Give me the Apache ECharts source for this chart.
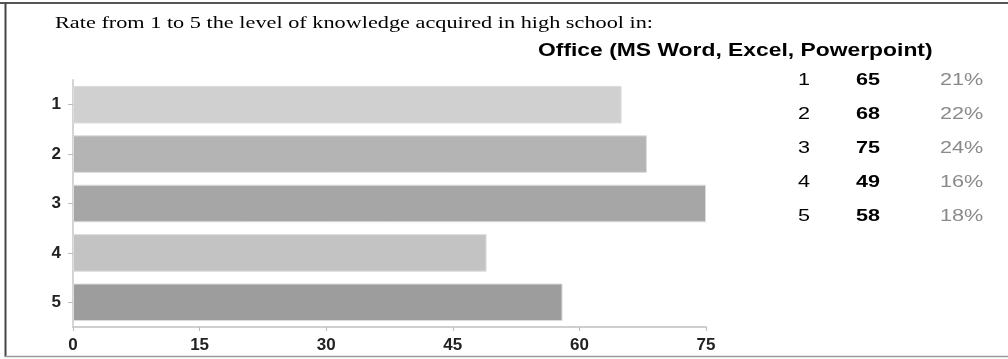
<!DOCTYPE html>
<html>
<head>
<meta charset="utf-8">
<script src="https://cdn.jsdelivr.net/npm/echarts@6/dist/echarts.min.js"></script>
<style>
html,body{margin:0;padding:0;background:#fff;}
#chart{width:1008px;height:359px;}
</style>
</head>
<body>
<div id="chart"></div>
<script>
// ---- data ----
const titleText = "Rate from 1 to 5 the level of knowledge acquired in high school in:";
const tableTitle = "Office (MS Word, Excel, Powerpoint)";
const categories = ["1", "2", "3", "4", "5"];
const values = [65, 68, 75, 49, 58];
const percents = ["21%", "22%", "24%", "16%", "18%"];
const xTicks = [0, 15, 30, 45, 60, 75];
const barColors = ["#d0d0d0", "#b4b4b4", "#a6a6a6", "#c3c3c3", "#9d9d9d"];

const chart = echarts.init(document.getElementById('chart'), null, {renderer: 'canvas'});

const SX = 1.27;
const graphics = [
  // frame
  {type: 'line', shape: {x1: 0, y1: 3, x2: 1008, y2: 3}, style: {stroke: '#555', lineWidth: 2}, z: 10},
  {type: 'line', shape: {x1: 5.5, y1: 3, x2: 5.5, y2: 357}, style: {stroke: '#444', lineWidth: 2}, z: 10},
  {type: 'line', shape: {x1: 5, y1: 356.5, x2: 1008, y2: 356.5}, style: {stroke: '#9a9a9a', lineWidth: 1.5}, z: 10},
  // title
  {type: 'text', x: 55, y: 24, scaleX: 1.31,
   style: {text: titleText, font: '17px "Liberation Serif", "Times New Roman", serif', fill: '#000', textAlign: 'left', textVerticalAlign: 'middle'}},
  {type: 'text', x: 538, y: 51, scaleX: SX,
   style: {text: tableTitle, font: 'bold 18px "Liberation Sans", Arial, sans-serif', fill: '#000', textAlign: 'left', textVerticalAlign: 'middle'}}
];
const rowY0 = 80, rowStep = 34;
categories.forEach((c, i) => {
  const y = rowY0 + i * rowStep;
  graphics.push({type: 'text', x: 798, y: y, scaleX: SX,
    style: {text: c, font: '17px "Liberation Sans", Arial, sans-serif', fill: '#000', textAlign: 'left', textVerticalAlign: 'middle'}});
  graphics.push({type: 'text', x: 856, y: y, scaleX: SX,
    style: {text: String(values[i]), font: 'bold 17px "Liberation Sans", Arial, sans-serif', fill: '#000', textAlign: 'left', textVerticalAlign: 'middle'}});
  graphics.push({type: 'text', x: 940, y: y, scaleX: SX,
    style: {text: percents[i], font: '17px "Liberation Sans", Arial, sans-serif', fill: '#8a8a8a', textAlign: 'left', textVerticalAlign: 'middle'}});
});

const option = {
  animation: false,
  backgroundColor: '#fff',
  grid: {left: 73, right: 302, top: 80, bottom: 32, containLabel: false},
  xAxis: {
    type: 'value', min: xTicks[0], max: xTicks[xTicks.length - 1], interval: 15,
    axisLine: {show: true, lineStyle: {color: '#cfcfcf', width: 2}},
    axisTick: {show: true, length: 4, lineStyle: {color: '#bbb'}},
    splitLine: {show: false},
    axisLabel: {margin: 10, color: '#222', fontSize: 17, fontWeight: 'bold', fontFamily: '"Liberation Sans", Arial, sans-serif'}
  },
  yAxis: {
    type: 'category', data: categories, inverse: true,
    axisLine: {show: true, lineStyle: {color: '#d4d4d4', width: 2}},
    axisTick: {show: true, length: 5, alignWithLabel: true, lineStyle: {color: '#bbb'}},
    axisLabel: {margin: 12, color: '#222', fontSize: 17, fontWeight: 'bold', fontFamily: '"Liberation Sans", Arial, sans-serif'}
  },
  series: [{
    type: 'bar',
    barCategoryGap: '24%',
    data: values.map((v, i) => ({value: v, itemStyle: {color: barColors[i], borderColor: '#dcdcdc', borderWidth: 1}})),
    label: {show: false}
  }],
  graphic: graphics
};
chart.setOption(option);
</script>
</body>
</html>
